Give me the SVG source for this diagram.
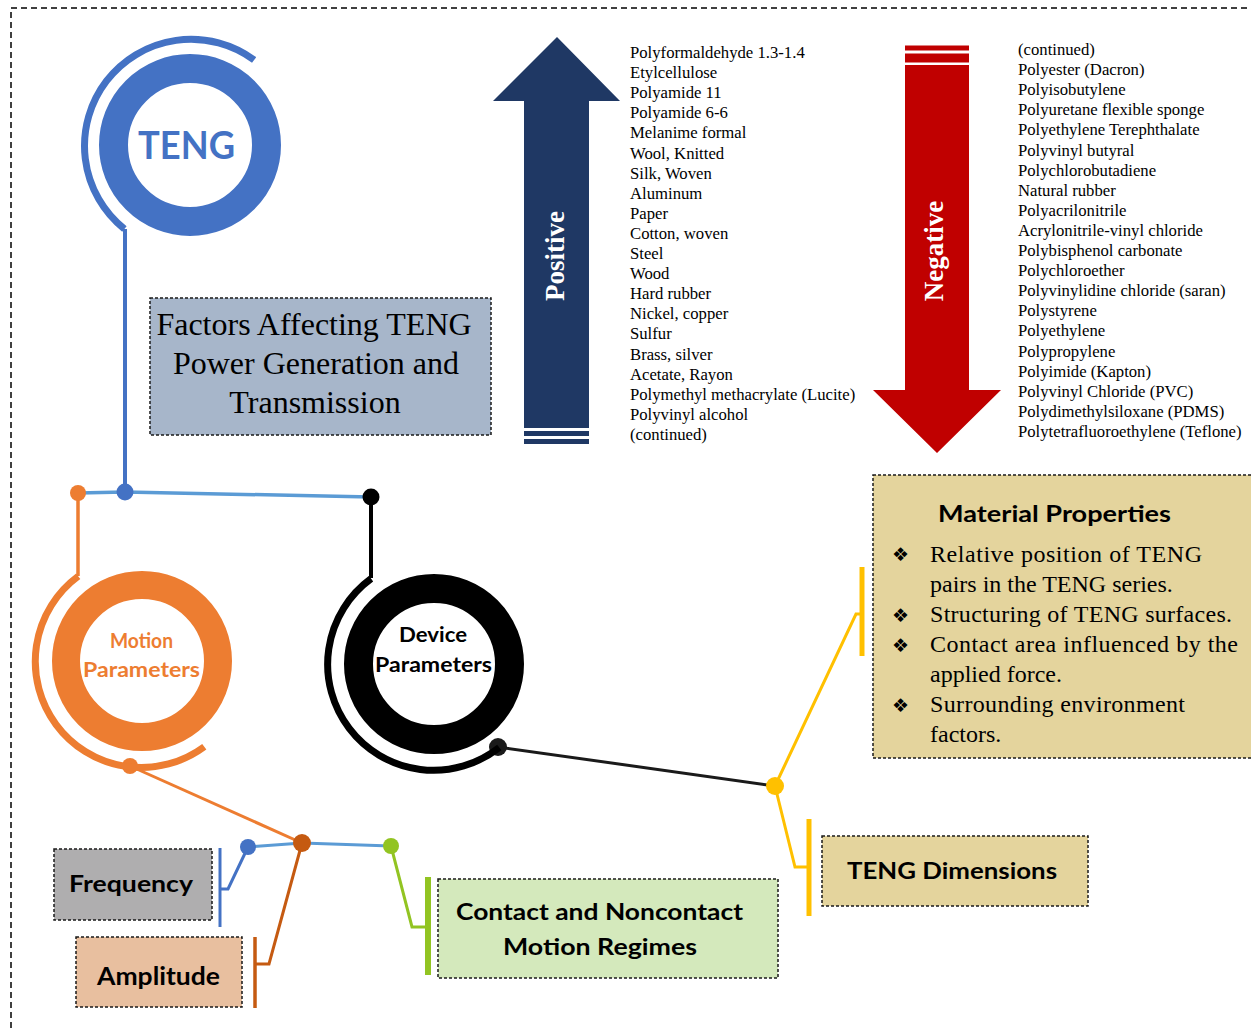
<svg xmlns="http://www.w3.org/2000/svg" width="1251" height="1031" viewBox="0 0 1251 1031">
<style>
.frame{fill:none;stroke:#000;stroke-width:1.5;stroke-dasharray:6 4}
.box{stroke:#1a1a1a;stroke-width:1.5;stroke-dasharray:3 2}
.lbl{font-family:Lato,"Open Sans",sans-serif;font-weight:700;fill:#000}
.ser{font-family:"Liberation Serif","Times New Roman",serif;fill:#000}
.list{font-family:"Liberation Serif","Times New Roman",serif;font-size:16.7px;fill:#000}
.bul{font-family:"DejaVu Sans",sans-serif;font-size:19px;fill:#000}
.arrowtxt{font-family:"Liberation Serif","Times New Roman",serif;font-weight:700;font-size:27px;fill:#fff}
</style>
<rect x="0" y="0" width="1251" height="1031" fill="#fff"/>
<rect class="frame" x="11" y="8" width="1260" height="1040"/>

<g id="connectors" fill="none" stroke-linecap="butt">
  <path d="M125,229 V492" stroke="#4472C4" stroke-width="4"/>
  <path d="M78,493 L125,492 L371,497" stroke="#5B9BD5" stroke-width="3.5"/>
  <path d="M78,493 V576" stroke="#ED7D31" stroke-width="3.5"/>
  <path d="M371,497 V578" stroke="#000" stroke-width="4"/>
  <path d="M130,766 L302,843" stroke="#ED7D31" stroke-width="3"/>
  <path d="M498,747 L775,786" stroke="#1a1a1a" stroke-width="3"/>
  <path d="M248,847 L302,843 L391,846" stroke="#5B9BD5" stroke-width="3"/>
  <path d="M248,847 L228,889 H220" stroke="#4472C4" stroke-width="3"/>
  <path d="M220,848 V927" stroke="#4472C4" stroke-width="3"/>
  <path d="M302,843 L269,964 H255" stroke="#C55A11" stroke-width="3"/>
  <path d="M255,937 V1008" stroke="#C55A11" stroke-width="3.5"/>
  <path d="M391,846 L412,927 H428" stroke="#92C422" stroke-width="3"/>
  <path d="M428,877 V975" stroke="#92C422" stroke-width="6"/>
  <path d="M775,786 L856,614 H862" stroke="#FFC000" stroke-width="3"/>
  <path d="M862,567 V656" stroke="#FFC000" stroke-width="5"/>
  <path d="M775,786 L795,867 H809" stroke="#FFC000" stroke-width="3"/>
  <path d="M809,819 V916" stroke="#FFC000" stroke-width="5"/>
  <circle cx="78" cy="493" r="8" fill="#ED7D31"/>
  <circle cx="125" cy="492" r="8.5" fill="#4472C4"/>
  <circle cx="371" cy="497" r="8.5" fill="#000"/>
  <circle cx="130" cy="766" r="8" fill="#ED7D31"/>
  <circle cx="498" cy="747" r="9" fill="#1a1a1a"/>
  <circle cx="775" cy="786" r="9" fill="#FFC000"/>
  <circle cx="248" cy="847" r="8" fill="#4472C4"/>
  <circle cx="302" cy="843" r="9" fill="#C55A11"/>
  <circle cx="391" cy="846" r="8" fill="#92C422"/>
</g>

<g id="teng">
  <path d="M254.1,60 A106.5,106.5 0 0 0 124.4,228.9" fill="none" stroke="#4472C4" stroke-width="7"/>
  <circle cx="190" cy="145" r="76.5" fill="#fff" stroke="#4472C4" stroke-width="29"/>
  <text class="lbl" x="186.5" y="159" font-size="38" style="fill:#4472C4" text-anchor="middle" textLength="97" lengthAdjust="spacingAndGlyphs">TENG</text>
</g>

<g id="factors">
  <rect class="box" x="150" y="298" width="341" height="137" fill="#A7B6CA"/>
  <text class="ser" font-size="32" text-anchor="middle" x="314" y="335">Factors Affecting TENG</text>
  <text class="ser" font-size="32" text-anchor="middle" x="316" y="374">Power Generation and</text>
  <text class="ser" font-size="32" text-anchor="middle" x="315" y="413">Transmission</text>
</g>

<g id="positive">
  <path d="M557,37 L620,101 H589 V428 H524 V101 H493 Z" fill="#1F3864"/>
  <rect x="524" y="431" width="65" height="5" fill="#1F3864"/>
  <rect x="524" y="439" width="65" height="5" fill="#1F3864"/>
  <text class="arrowtxt" transform="translate(564,256) rotate(-90)" text-anchor="middle">Positive</text>
</g>

<g id="positive-list" class="list">
  <text x="630" y="58">Polyformaldehyde 1.3-1.4</text>
  <text x="630" y="78.1">Etylcellulose</text>
  <text x="630" y="98.2">Polyamide 11</text>
  <text x="630" y="118.3">Polyamide 6-6</text>
  <text x="630" y="138.4">Melanime formal</text>
  <text x="630" y="158.5">Wool, Knitted</text>
  <text x="630" y="178.6">Silk, Woven</text>
  <text x="630" y="198.7">Aluminum</text>
  <text x="630" y="218.8">Paper</text>
  <text x="630" y="238.9">Cotton, woven</text>
  <text x="630" y="259">Steel</text>
  <text x="630" y="279.1">Wood</text>
  <text x="630" y="299.2">Hard rubber</text>
  <text x="630" y="319.3">Nickel, copper</text>
  <text x="630" y="339.4">Sulfur</text>
  <text x="630" y="359.5">Brass, silver</text>
  <text x="630" y="379.6">Acetate, Rayon</text>
  <text x="630" y="399.7">Polymethyl methacrylate (Lucite)</text>
  <text x="630" y="419.8">Polyvinyl alcohol</text>
  <text x="630" y="439.9">(continued)</text>
</g>

<g id="negative">
  <rect x="905" y="45.5" width="64" height="5" fill="#C00000"/>
  <rect x="905" y="53.5" width="64" height="9" fill="#C00000"/>
  <path d="M905,65 H969 V390 H1001 L937,453 L873,390 H905 Z" fill="#C00000"/>
  <text class="arrowtxt" transform="translate(943,251) rotate(-90)" text-anchor="middle">Negative</text>
</g>

<g id="negative-list" class="list">
  <text x="1018" y="55">(continued)</text>
  <text x="1018" y="75.1">Polyester (Dacron)</text>
  <text x="1018" y="95.2">Polyisobutylene</text>
  <text x="1018" y="115.3">Polyuretane flexible sponge</text>
  <text x="1018" y="135.4">Polyethylene Terephthalate</text>
  <text x="1018" y="155.5">Polyvinyl butyral</text>
  <text x="1018" y="175.6">Polychlorobutadiene</text>
  <text x="1018" y="195.7">Natural rubber</text>
  <text x="1018" y="215.8">Polyacrilonitrile</text>
  <text x="1018" y="235.9">Acrylonitrile-vinyl chloride</text>
  <text x="1018" y="256">Polybisphenol carbonate</text>
  <text x="1018" y="276.1">Polychloroether</text>
  <text x="1018" y="296.2">Polyvinylidine chloride (saran)</text>
  <text x="1018" y="316.3">Polystyrene</text>
  <text x="1018" y="336.4">Polyethylene</text>
  <text x="1018" y="356.5">Polypropylene</text>
  <text x="1018" y="376.6">Polyimide (Kapton)</text>
  <text x="1018" y="396.7">Polyvinyl Chloride (PVC)</text>
  <text x="1018" y="416.8">Polydimethylsiloxane (PDMS)</text>
  <text x="1018" y="436.9">Polytetrafluoroethylene (Teflone)</text>
</g>

<g id="motion">
  <path d="M78.2,576.3 A106,106 0 0 0 204.3,746.8" fill="none" stroke="#ED7D31" stroke-width="7"/>
  <circle cx="142" cy="661" r="76" fill="#fff" stroke="#ED7D31" stroke-width="28"/>
  <text class="lbl" x="141.5" y="648" font-size="20" style="fill:#ED7D31" text-anchor="middle" textLength="63" lengthAdjust="spacingAndGlyphs">Motion</text>
  <text class="lbl" x="141.5" y="677" font-size="20" style="fill:#ED7D31" text-anchor="middle" textLength="117" lengthAdjust="spacingAndGlyphs">Parameters</text>
</g>

<g id="device">
  <path d="M371.1,578.7 A106,106 0 1 0 499.3,747.5" fill="none" stroke="#000" stroke-width="7"/>
  <circle cx="434" cy="664" r="75.5" fill="#fff" stroke="#000" stroke-width="29"/>
  <text class="lbl" x="433" y="642" font-size="21" text-anchor="middle" textLength="68" lengthAdjust="spacingAndGlyphs">Device</text>
  <text class="lbl" x="433.5" y="672" font-size="21" text-anchor="middle" textLength="117" lengthAdjust="spacingAndGlyphs">Parameters</text>
</g>

<g id="material">
  <rect class="box" x="873" y="475" width="380" height="283" fill="#E4D49D"/>
  <text class="lbl" x="1054.5" y="522" font-size="23.5" text-anchor="middle" textLength="233" lengthAdjust="spacingAndGlyphs">Material Properties</text>
  <text class="bul" x="900.5" y="561" text-anchor="middle">❖</text>
  <text class="bul" x="900.5" y="622" text-anchor="middle">❖</text>
  <text class="bul" x="900.5" y="652" text-anchor="middle">❖</text>
  <text class="bul" x="900.5" y="712" text-anchor="middle">❖</text>
  <text class="ser" font-size="24" x="930" y="562" textLength="272" lengthAdjust="spacing">Relative position of TENG</text>
  <text class="ser" font-size="24" x="930" y="592">pairs in the TENG series.</text>
  <text class="ser" font-size="24" x="930" y="622" textLength="302" lengthAdjust="spacing">Structuring of TENG surfaces.</text>
  <text class="ser" font-size="24" x="930" y="652" textLength="308" lengthAdjust="spacing">Contact area influenced by the</text>
  <text class="ser" font-size="24" x="930" y="682">applied force.</text>
  <text class="ser" font-size="24" x="930" y="712" textLength="255" lengthAdjust="spacing">Surrounding environment</text>
  <text class="ser" font-size="24" x="930" y="742">factors.</text>
</g>

<g id="teng-dimensions">
  <rect class="box" x="822" y="836" width="266" height="70" fill="#E4D49D"/>
  <text class="lbl" x="952" y="879" font-size="23.5" text-anchor="middle" textLength="210" lengthAdjust="spacingAndGlyphs">TENG Dimensions</text>
</g>

<g id="contact">
  <rect class="box" x="438" y="879" width="340" height="99" fill="#D4E9BC"/>
  <text class="lbl" x="599.5" y="920" font-size="23.5" text-anchor="middle" textLength="287" lengthAdjust="spacingAndGlyphs">Contact and Noncontact</text>
  <text class="lbl" x="600" y="955" font-size="23.5" text-anchor="middle" textLength="194" lengthAdjust="spacingAndGlyphs">Motion Regimes</text>
</g>

<g id="frequency">
  <rect class="box" x="54" y="849" width="158" height="71" fill="#AFAEAF"/>
  <text class="lbl" x="131" y="892" font-size="23.5" text-anchor="middle" textLength="124" lengthAdjust="spacingAndGlyphs">Frequency</text>
</g>

<g id="amplitude">
  <rect class="box" x="76" y="937" width="166" height="70" fill="#E8BF9F"/>
  <text class="lbl" x="158.5" y="985" font-size="24" text-anchor="middle" textLength="123" lengthAdjust="spacingAndGlyphs">Amplitude</text>
</g>
</svg>
